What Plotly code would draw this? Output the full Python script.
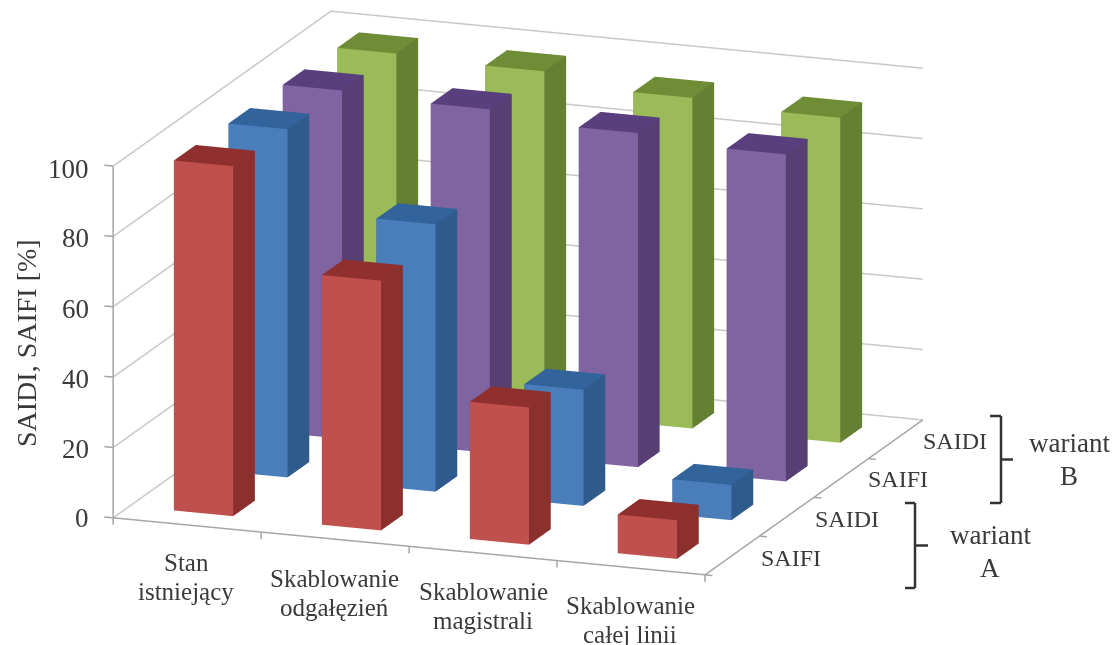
import plotly.graph_objects as go

categories = ["Stan<br>istniejący", "Skablowanie<br>odgałęzień", "Skablowanie<br>magistrali", "Skablowanie<br>całej linii"]
series_names = ["SAIFI", "SAIDI", "SAIFI", "SAIDI"]
saifi_a = [99.5, 71, 39, 11]
saidi_a = [99, 76, 33, 10]
saifi_b = [99, 97.7, 95, 93]
saidi_b = [98.5, 97.5, 94, 92.4]
z_ticks = [0, 20, 40, 60, 80, 100]

series_values = [saifi_a, saidi_a, saifi_b, saidi_b]
front_colors = ["#C0504D", "#4A7EBB", "#8064A2", "#9BBB59"]
side_colors = ["#8C302D", "#2F5A8C", "#573F74", "#657F33"]
top_colors = ["#8F2F2E", "#33639B", "#5A3F7E", "#6F8C36"]

W, H = 1114, 645
TEXT = "#3A3A3A"
FONT = "Liberation Serif"
GRID = "#C8C8C8"
AXIS = "#A6A6A6"


def px(x):
    return x / W


def py(y):
    return 1 - y / H


fig = go.Figure()


def bar(ix, iy, value, front, side, top):
    x0, x1 = ix + 0.3, ix + 0.7
    y0, y1 = iy + 0.3, iy + 0.7
    xs = [x0, x1, x1, x0, x0, x1, x1, x0]
    ys = [y0, y0, y1, y1, y0, y0, y1, y1]
    zs = [0, 0, 0, 0, value, value, value, value]
    # front, right, top, back, left
    tri = [(0, 1, 5), (0, 5, 4), (1, 2, 6), (1, 6, 5), (4, 5, 6), (4, 6, 7), (3, 2, 6), (3, 6, 7), (0, 3, 7), (0, 7, 4)]
    cols = [front, front, side, side, top, top, side, side, side, side]
    fig.add_trace(go.Mesh3d(
        x=xs, y=ys, z=zs,
        i=[t[0] for t in tri], j=[t[1] for t in tri], k=[t[2] for t in tri],
        facecolor=cols, flatshading=True,
        lighting=dict(ambient=1, diffuse=0, specular=0, roughness=1, fresnel=0),
        hoverinfo="skip", showscale=False,
    ))


for iy, values in enumerate(series_values):
    for ix, v in enumerate(values):
        bar(ix, iy, v, front_colors[iy], side_colors[iy], top_colors[iy])


def line(xs, ys, zs, color, width=3):
    fig.add_trace(go.Scatter3d(x=xs, y=ys, z=zs, mode="lines", line=dict(color=color, width=width),
                               hoverinfo="skip", showlegend=False))


# Gridlines along the two back walls
n = len(categories)
for z in z_ticks:
    line([0, 0, n], [0, n, n], [z, z, z], GRID)
# Axis lines and tick marks
line([0, 0], [0, 0], [-2, 100], AXIS)
line([0, n, n], [0, 0, n], [0, 0, 0], AXIS)
for z in z_ticks:
    line([-0.06, 0], [0, 0], [z, z], AXIS)
for ix in range(n + 1):
    line([ix, ix], [0, 0], [-2, 0], AXIS)
for iy in range(n):
    line([n, n + 0.05], [iy, iy], [0, 0], AXIS)

hidden = dict(visible=False)
ZOOM = 2.26
EYE = 10
fig.update_layout(
    width=W, height=H, margin=dict(l=0, r=0, t=0, b=0),
    paper_bgcolor="white", showlegend=False,
    scene=dict(
        domain=dict(x=[0, 1036 / W], y=[1 - 586 / H, 1]),
        xaxis=dict(range=[-0.1, n + 0.1], **hidden),
        yaxis=dict(range=[-0.1, n + 0.1], **hidden),
        zaxis=dict(range=[-5, 105], **hidden),
        aspectmode="manual",
        aspectratio=dict(x=ZOOM, y=ZOOM, z=0.6054 * ZOOM),
        bgcolor="white",
        camera=dict(
            projection=dict(type="orthographic"),
            up=dict(x=0, y=0, z=1),
            center=dict(x=0, y=0, z=0),
            eye=dict(x=0.333 * EYE, y=-0.905 * EYE, z=0.2615 * EYE),
        ),
    ),
)


def label(x, y, text, size=25, anchor="center"):
    fig.add_annotation(xref="paper", yref="paper", x=px(x), y=py(y), text=text, showarrow=False,
                       xanchor=anchor, yanchor="middle", font=dict(family=FONT, size=size, color=TEXT))


for z, y in zip(z_ticks, [518, 449, 379, 309, 238, 169]):
    label(91, y, str(z), anchor="right", size=27)
for cat, (x, y) in zip(categories, [(186, 562), (334, 578), (483, 591), (630, 605)]):
    first, second = cat.split("<br>")
    label(x, y, first)
    label(x, y + 29, second)
for name, (x, y) in zip(series_names, [(791, 558), (847, 519), (898, 479), (955, 441)]):
    label(x, y, name, size=24)
label(1069, 443, "wariant", size=27)
label(1069, 476, "B", size=27)
label(990, 535, "wariant", size=27)
label(990, 568, "A", size=27)
fig.add_annotation(xref="paper", yref="paper", x=px(26), y=py(343), text="SAIDI, SAIFI [%]", textangle=-90,
                   xanchor="center", yanchor="middle", showarrow=False,
                   font=dict(family=FONT, size=28, color=TEXT))


def bracket(x_open, x_spine, x_tip, y_top, y_bot):
    y_mid = (y_top + y_bot) / 2
    for xs, ys in [([x_open, x_spine, x_spine, x_open], [y_top, y_top, y_bot, y_bot]), ([x_spine, x_tip], [y_mid, y_mid])]:
        for a, b, c, d in zip(xs[:-1], ys[:-1], xs[1:], ys[1:]):
            fig.add_shape(type="line", xref="paper", yref="paper", x0=px(a), y0=py(b), x1=px(c), y1=py(d),
                          line=dict(color="#333333", width=2.5))


bracket(990, 1001, 1013, 416, 503)
bracket(905, 915, 928, 503, 588)

fig.write_html("out.html", config=dict(displayModeBar=False))
